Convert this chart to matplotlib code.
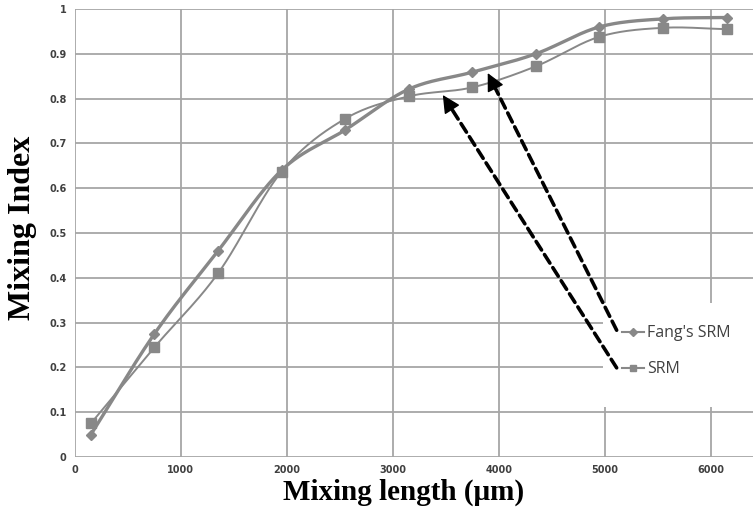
import numpy as np
import matplotlib
matplotlib.use("Agg")
import matplotlib.pyplot as plt
from matplotlib.patches import Rectangle

# ---- data ----
mixing_length = [150, 750, 1350, 1950, 2550, 3150, 3750, 4350, 4950, 5550, 6150]
fang_srm = [0.05, 0.275, 0.46, 0.64, 0.73, 0.821, 0.859, 0.90, 0.96, 0.978, 0.981]
srm = [0.075, 0.245, 0.41, 0.637, 0.755, 0.805, 0.825, 0.872, 0.938, 0.958, 0.955]
x_ticks = [0, 1000, 2000, 3000, 4000, 5000, 6000]
y_ticks = [0, 0.1, 0.2, 0.3, 0.4, 0.5, 0.6, 0.7, 0.8, 0.9, 1]
y_tick_labels = ["0", "0.1", "0.2", "0.3", "0.4", "0.5", "0.6", "0.7", "0.8", "0.9", "1"]
# annotation arrows: (tail, tip)
arrow_fang = [(5113, 0.283), (3896, 0.857)]
arrow_srm = [(5113, 0.199), (3472, 0.808)]


def smooth(xs, ys, n=30):
    """Catmull-Rom style smoothing for drawing the line (like Excel smoothed lines)."""
    xs = np.asarray(xs, float); ys = np.asarray(ys, float)
    k = 448 / 678
    px = xs / 6400.0; py = ys * k
    P = np.column_stack([px, py])
    P = np.vstack([2 * P[0] - P[1], P, 2 * P[-1] - P[-2]])
    out = []
    for i in range(1, len(P) - 2):
        p0, p1, p2, p3 = P[i - 1], P[i], P[i + 1], P[i + 2]
        t = np.linspace(0, 1, n, endpoint=False)[:, None]
        c = 0.5 * ((2 * p1) + (-p0 + p2) * t + (2 * p0 - 5 * p1 + 4 * p2 - p3) * t ** 2
                   + (-p0 + 3 * p1 - 3 * p2 + p3) * t ** 3)
        out.append(c)
    out.append(P[-2][None, :])
    out = np.vstack(out)
    return out[:, 0] * 6400.0, out[:, 1] / k


fig = plt.figure(figsize=(7.53, 5.13), dpi=100)
ax = fig.add_axes([75 / 753, 56 / 513, 678 / 753, 448 / 513])
ax.set_xlim(0, 6400)
ax.set_ylim(0, 1)

grid_c = "#a6a6a6"
for xt in x_ticks:
    ax.axvline(xt, color=grid_c, lw=1.3, zorder=1)
for yt in y_ticks:
    ax.axhline(yt, color=grid_c, lw=1.3, zorder=1)
for s in ax.spines.values():
    s.set_visible(False)

ax.set_xticks(x_ticks)
ax.set_yticks(y_ticks)
ax.set_yticklabels(y_tick_labels)
ax.tick_params(length=0, labelsize=7, labelcolor="#404040", pad=6)
for lab in ax.get_xticklabels() + ax.get_yticklabels():
    lab.set_fontweight("bold")

line_c = "#888888"
fx, fy = smooth(mixing_length, fang_srm)
sx_, sy_ = smooth(mixing_length, srm)
ax.plot(fx, fy, color=line_c, lw=2.4, zorder=3)
ax.plot(sx_, sy_, color=line_c, lw=1.4, zorder=3)
ax.plot(mixing_length, fang_srm, ls="none", marker="D", ms=5, color=line_c, zorder=4)
ax.plot(mixing_length, srm, ls="none", marker="s", ms=7, color=line_c, zorder=4)

# legend background box
ax.add_patch(Rectangle((0.779, 0.112), 0.25, 0.232, transform=ax.transAxes,
                       facecolor="white", edgecolor="none", zorder=2))
h1, = ax.plot([], [], color=line_c, lw=1.5, marker="D", ms=4)
h2, = ax.plot([], [], color=line_c, lw=1.5, marker="s", ms=5)
leg = ax.legend([h1, h2], ["Fang's SRM", "SRM"], loc="center left",
                bbox_to_anchor=(0.785, 0.236), frameon=False, handlelength=1.4,
                handletextpad=0.2, labelspacing=1.25,
                prop={"family": "Open Sans", "size": 11.5})
for t in leg.get_texts():
    t.set_color("#404040")
leg.set_zorder(5)

# dashed arrows
for (tail, tip) in [arrow_fang, arrow_srm]:
    ax.annotate("", xy=tip, xytext=tail,
                arrowprops=dict(arrowstyle="-", linestyle=(0, (2.8, 1.5)), lw=2.6,
                                color="black", shrinkA=0, shrinkB=8), zorder=6)
    d = np.array(tip) - np.array(tail)
    back = (tip[0] - d[0] * 0.03, tip[1] - d[1] * 0.03)
    ax.annotate("", xy=tip, xytext=back,
                arrowprops=dict(arrowstyle="-|>,head_length=1.1,head_width=0.55",
                                lw=1, color="black", shrinkA=0, shrinkB=0), zorder=6)

ax.set_xlabel("Mixing length (μm)", family="Liberation Serif", fontweight="bold",
              fontsize=21, va="center", ha="center")
ax.xaxis.set_label_coords(0.484, -0.078)
ax.set_ylabel("Mixing Index", family="Liberation Serif", fontweight="bold",
              fontsize=23, va="center", ha="center")
ax.yaxis.set_label_coords(-0.077, 0.511)

fig.savefig("out.png", dpi=100)
